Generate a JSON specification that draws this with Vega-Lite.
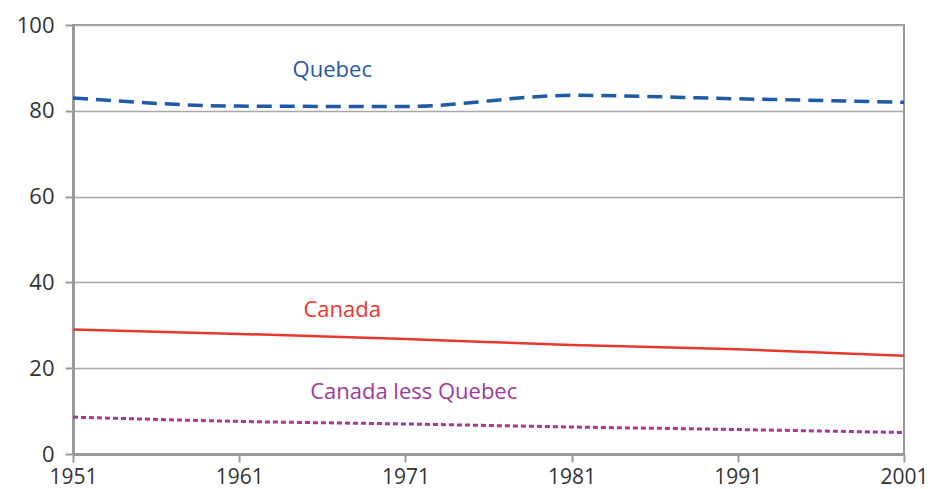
{
  "$schema": "https://vega.github.io/schema/vega-lite/v6.json",
  "autosize": "none",
  "width": 831,
  "height": 429,
  "padding": {"left": 73, "top": 25, "right": 28, "bottom": 35},
  "background": "white",
  "config": {
    "view": {"stroke": "#9a9a9a", "strokeWidth": 2},
    "font": "Open Sans"
  },
  "datasets": {
    "series": [
      {"series": "Quebec", "year": 1951, "value": 83.0},
      {"series": "Quebec", "year": 1961, "value": 81.1},
      {"series": "Quebec", "year": 1971, "value": 81.0},
      {"series": "Quebec", "year": 1981, "value": 83.6},
      {"series": "Quebec", "year": 1991, "value": 82.8},
      {"series": "Quebec", "year": 2001, "value": 82.0},
      {"series": "Canada", "year": 1951, "value": 29.0},
      {"series": "Canada", "year": 1961, "value": 28.0},
      {"series": "Canada", "year": 1971, "value": 26.8},
      {"series": "Canada", "year": 1981, "value": 25.4},
      {"series": "Canada", "year": 1991, "value": 24.4},
      {"series": "Canada", "year": 2001, "value": 22.9},
      {"series": "Canada less Quebec", "year": 1951, "value": 8.6},
      {"series": "Canada less Quebec", "year": 1961, "value": 7.6},
      {"series": "Canada less Quebec", "year": 1971, "value": 7.0},
      {"series": "Canada less Quebec", "year": 1981, "value": 6.3},
      {"series": "Canada less Quebec", "year": 1991, "value": 5.7},
      {"series": "Canada less Quebec", "year": 2001, "value": 5.0}
    ],
    "labels": [
      {"series": "Quebec", "year": 1966.6, "value": 89.5},
      {"series": "Canada", "year": 1967.2, "value": 33.6},
      {"series": "Canada less Quebec", "year": 1971.5, "value": 14.5}
    ]
  },
  "encoding": {
    "x": {
      "field": "year", "type": "quantitative",
      "scale": {"domain": [1951, 2001], "nice": false, "zero": false},
      "axis": {
        "title": null, "values": [1951, 1961, 1971, 1981, 1991, 2001],
        "format": "d", "grid": false,
        "domainColor": "#9a9a9a", "domainWidth": 3,
        "tickColor": "#9a9a9a", "tickWidth": 2, "tickSize": 8,
        "labelFontSize": 21, "labelColor": "#333333", "labelPadding": 4,
        "labelFont": "Open Sans", "labelFlush": false
      }
    },
    "y": {
      "field": "value", "type": "quantitative",
      "scale": {"domain": [0, 100], "nice": false},
      "axis": {
        "title": null, "values": [0, 20, 40, 60, 80, 100],
        "grid": true, "gridColor": "#a8a8a8", "gridWidth": 1.5,
        "domainColor": "#9a9a9a", "domainWidth": 3,
        "tickColor": "#9a9a9a", "tickWidth": 2, "tickSize": 8,
        "labelFontSize": 22, "labelColor": "#333333", "labelPadding": 11,
        "labelFont": "Open Sans"
      }
    },
    "color": {
      "field": "series", "type": "nominal", "legend": null,
      "scale": {
        "domain": ["Quebec", "Canada", "Canada less Quebec"],
        "range": ["#1f5aa6", "#e8382e", "#a0399c"]
      }
    }
  },
  "layer": [
    {
      "data": {"name": "series"},
      "transform": [{"filter": "datum.series === 'Quebec'"}],
      "mark": {"type": "line", "interpolate": "monotone", "strokeWidth": 3.5, "strokeDash": [15, 8]}
    },
    {
      "data": {"name": "series"},
      "transform": [{"filter": "datum.series === 'Canada'"}],
      "mark": {"type": "line", "interpolate": "monotone", "strokeWidth": 2.5}
    },
    {
      "data": {"name": "series"},
      "transform": [{"filter": "datum.series === 'Canada less Quebec'"}],
      "mark": {"type": "line", "interpolate": "monotone", "strokeWidth": 3, "strokeDash": [5, 3]}
    },
    {
      "data": {"name": "labels"},
      "mark": {"type": "text", "fontSize": 22, "font": "Open Sans", "align": "center", "baseline": "middle"},
      "encoding": {"text": {"field": "series"}}
    }
  ]
}
